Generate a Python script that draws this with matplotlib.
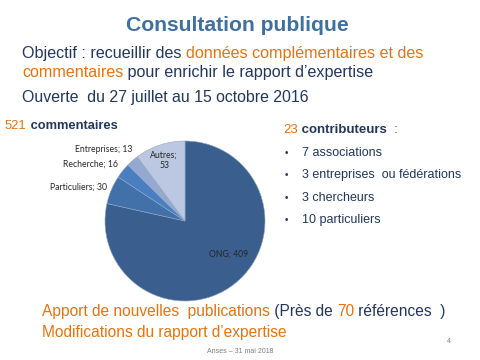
import matplotlib
matplotlib.use('Agg')
import matplotlib.pyplot as plt

# Pie data (clockwise from 12 o'clock)
categories = ['ONG', 'Particuliers', 'Recherche', 'Entreprises', 'Autres']
counts = [409, 30, 16, 13, 53]
colors = ['#3A5F8E', '#4270A8', '#4A7EC0', '#95A9D0', '#BCC8E1']

# Contributors
n_comments = 521
n_contrib = 23
contrib_items = ['7 associations', '3 entreprises  ou fédérations', '3 chercheurs', '10 particuliers']

NAVY = '#22365F'
ORANGE = '#E8730E'
TITLE = '#3F709F'
W, H = 480, 360

plt.rcParams['font.family'] = ['Liberation Sans', 'DejaVu Sans']
fig = plt.figure(figsize=(4.8, 3.6), dpi=100)
fig.patch.set_facecolor('white')
renderer = fig.canvas.get_renderer()


def put(parts, x, y, size):
    """Write a line of mixed-colour segments, starting at pixel x / baseline y (from top)."""
    x = x / W
    for s, c, w in parts:
        t = fig.text(x, 1 - y / H, s, color=c, fontsize=size, fontweight=w,
                     ha='left', va='baseline')
        bb = t.get_window_extent(renderer)
        x += bb.width / W


fig.text(237 / W, 1 - 31 / H, 'Consultation publique', ha='center', va='baseline',
         fontsize=15.2, fontweight='bold', color=TITLE)

put([('Objectif : recueillir des ', NAVY, 'normal'),
     ('données complémentaires et des', ORANGE, 'normal')], 22, 58, 11.6)
put([('commentaires', ORANGE, 'normal'),
     (' pour enrichir le rapport d\u2019expertise', NAVY, 'normal')], 22, 77, 11.6)
put([('Ouverte  du 27 juillet au 15 octobre 2016', NAVY, 'normal')], 22, 102, 11.4)

put([(str(n_comments), ORANGE, 'normal'), (' commentaires', NAVY, 'bold')], 5, 129, 9.3)
put([(str(n_contrib), ORANGE, 'normal'), (' contributeurs', NAVY, 'bold'),
     ('  :', NAVY, 'normal')], 283, 133, 9.5)
for i, item in enumerate(contrib_items):
    yb = 156 + i * 22.4
    fig.text(285 / W, 1 - yb / H, '\u2022', fontsize=7, color=NAVY, va='baseline')
    fig.text(302 / W, 1 - yb / H, item, fontsize=9, color=NAVY, va='baseline')

put([('Apport de nouvelles  publications', ORANGE, 'normal'),
     (' (Près de ', NAVY, 'normal'), ('70', ORANGE, 'normal'),
     (' références  )', NAVY, 'normal')], 42, 316, 11.2)
put([('Modifications du rapport d\u2019expertise', ORANGE, 'normal')], 42, 337, 11.2)
fig.text(240 / W, 1 - 353 / H, 'Anses \u2013 31 mai 2018', ha='center', va='baseline',
         fontsize=5, color='#7F7F7F')
fig.text(449 / W, 1 - 343 / H, '4', ha='center', va='baseline', fontsize=5, color='#7F7F7F')

# Pie
cx, cy, r = 185, 221, 80
ax = fig.add_axes([(cx - r) / W, (H - cy - r) / H, 2 * r / W, 2 * r / H])
labels = [f'{c}; {v}' for c, v in zip(categories, counts)]
wedges, texts = ax.pie(counts, colors=colors, startangle=90, counterclock=False,
                       labels=labels, labeldistance=1.1,
                       wedgeprops=dict(linewidth=0.4, edgecolor='#8FA6C8'),
                       textprops=dict(fontsize=6.2, color='#262626', family='Lato'))
# label placement as in the original (data coords of the unit pie)
label_pos = [(0.54, -0.42), (-0.975, 0.425), (-0.84, 0.71), (-0.66, 0.89), (-0.26, 0.76)]
label_ha = ['center', 'right', 'right', 'right', 'center']
texts[4].set_text('Autres;\n53')
texts[4].set_multialignment('center')
for t, pos, ha in zip(texts, label_pos, label_ha):
    t.set_position(pos)
    t.set_ha(ha)
    t.set_va('center')
ax.set_xlim(-1, 1)
ax.set_ylim(-1, 1)
ax.set_aspect('auto')
ax.axis('off')

fig.savefig('out.png', dpi=100)
